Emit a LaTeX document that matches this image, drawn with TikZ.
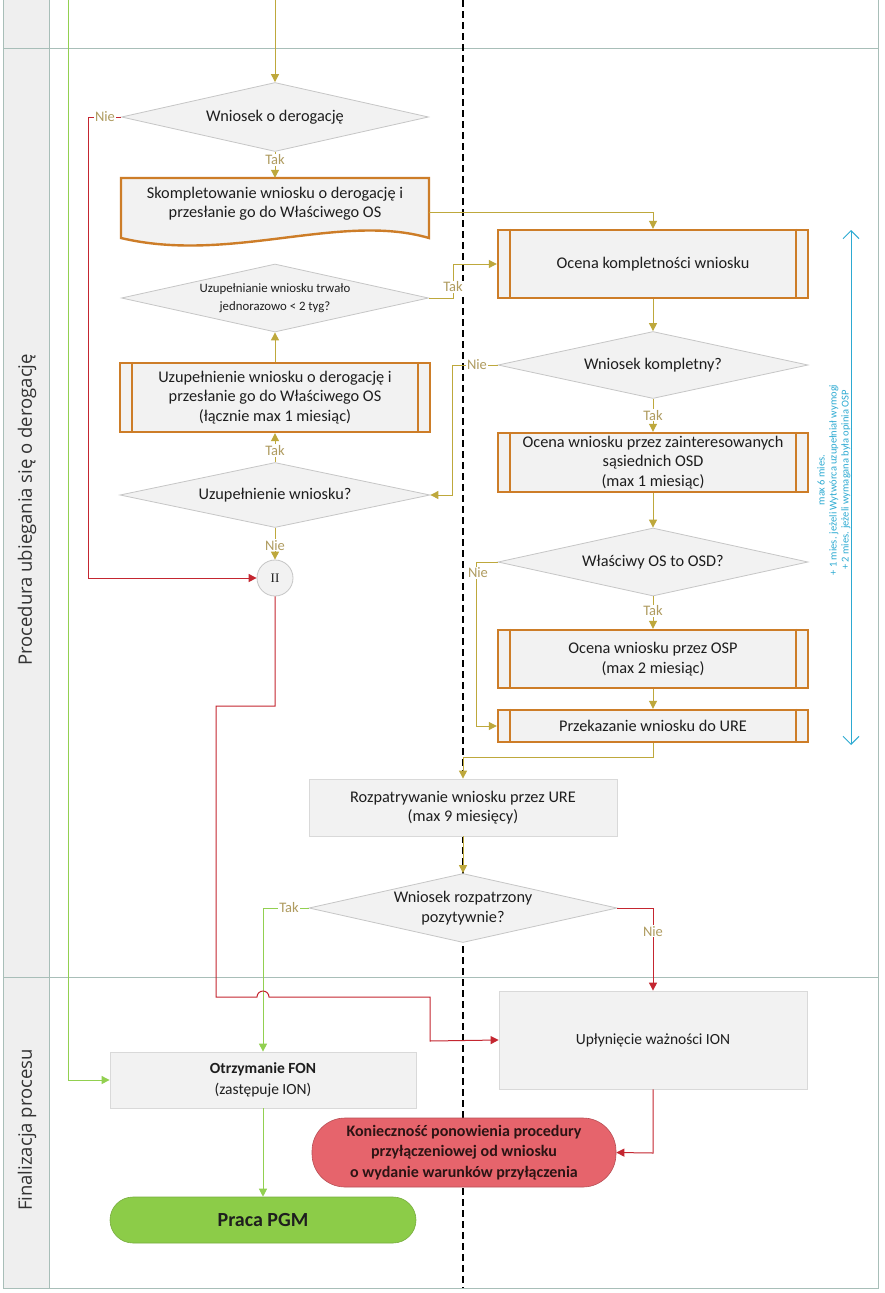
\documentclass[tikz,border=0pt]{standalone}
\usepackage{fontspec}
\setmainfont{Carlito}
\newfontfamily\lanefont{Open Sans}
\newfontfamily\romfont{Liberation Serif}
\usetikzlibrary{arrows.meta,shapes.geometric}
\definecolor{orng}{RGB}{205,125,40}
\definecolor{olv}{RGB}{190,168,60}
\definecolor{lblc}{RGB}{175,155,95}
\definecolor{boxf}{RGB}{242,242,242}
\definecolor{redl}{RGB}{196,38,48}
\definecolor{grnl}{RGB}{146,208,80}
\definecolor{grnf}{RGB}{140,204,72}
\definecolor{redf}{RGB}{230,100,108}
\definecolor{bluel}{RGB}{45,170,210}
\definecolor{lanel}{RGB}{168,190,184}
\definecolor{lanef}{RGB}{239,239,239}
\definecolor{txt}{RGB}{30,30,30}
\newcommand\sublines[1]{\draw[orng, line width=2.4pt] ([xshift=13pt]#1.north west) -- ([xshift=13pt]#1.south west) ([xshift=-13pt]#1.north east) -- ([xshift=-13pt]#1.south east);}
\begin{document}
\begin{tikzpicture}[x=1pt,y=-1pt,
  every node/.style={text=txt},
  mainfont/.style={font=\fontsize{16.3}{19.3}\selectfont},
  proc/.style={rectangle, draw=orng, line width=2.4pt, fill=boxf, inner sep=0pt, align=center, mainfont, minimum width=310pt},
  plainbox/.style={rectangle, draw=gray!30, line width=0.8pt, fill=boxf, inner sep=0pt, align=center, minimum width=308pt},
  dia/.style={diamond, draw=gray!45, line width=0.8pt, fill=boxf, inner sep=0pt},
  dtext/.style={align=center, mainfont},
  oline/.style={draw=olv, line width=1pt},
  rline/.style={draw=redl, line width=1pt},
  gline/.style={draw=grnl, line width=1pt},
  tip/.style={-{Triangle[length=8pt,width=8pt]}},
  lbl/.style={fill=white, inner sep=1pt, text=lblc, font=\fontsize{14.5}{14.5}\selectfont},
  lanetxt/.style={rotate=90, text=black!80, font=\lanefont\fontsize{18.5}{22}\selectfont}
]
% canvas
\fill[white] (0,0) rectangle (884,1293);
\useasboundingbox (0,0) rectangle (884,1293);
% lanes
\fill[lanef] (3,0) rectangle (49,1288);
\draw[lanel, line width=1pt] (3,0) -- (3,1288) -- (878,1288) -- (878,0);
\draw[lanel, line width=1pt] (49,0) -- (49,1288);
\draw[lanel, line width=1pt] (3,48) -- (878,48);
\draw[lanel, line width=1pt] (3,977) -- (878,977);
\node[lanetxt] (lane1) at (27,510) {Procedura ubiegania się o derogację};
\node[lanetxt] (lane2) at (27,1130) {Finalizacja procesu};
% dashed separator
\draw[black, line width=1.1pt, dash pattern=on 7pt off 4pt] (463,0) -- (463,1288);

% left column nodes
\node[dia, minimum width=307pt, minimum height=69pt] (d1) at (275,117) {};
\node[dtext] (d1t) at (d1) {Wniosek o derogację};

\path[draw=orng, line width=2.4pt, fill=boxf] (121,178) -- (429,178) -- (429,238) .. controls (340,212) and (230,264) .. (121,238) -- cycle;
\node[minimum width=308pt, minimum height=68pt, inner sep=0pt] (doc) at (275,212) {};
\node[dtext] (doct) at (275,204) {Skompletowanie wniosku o derogację i\\przesłanie go do Właściwego OS};

\node[dia, minimum width=307pt, minimum height=68pt] (d4) at (275,298) {};
\node[align=center, font=\fontsize{12.8}{17.5}\selectfont] (d4t) at (d4) {Uzupełnianie wniosku trwało\\jednorazowo < 2 tyg?};

\node[proc, minimum height=69pt] (b4) at (275,397.5) {Uzupełnienie wniosku o derogację i\\przesłanie go do Właściwego OS\\(łącznie max 1 miesiąc)};
\sublines{b4}

\node[dia, minimum width=310pt, minimum height=65pt] (d5) at (275,495) {};
\node[dtext] (d5t) at (d5) {Uzupełnienie wniosku?};

\node[circle, minimum size=36pt, inner sep=0pt, draw=gray!45, line width=0.8pt, fill=boxf, font=\romfont\fontsize{13}{13}\selectfont] (c2) at (275,578) {II};

% right column nodes
\node[proc, minimum height=68pt] (b3) at (653,264) {Ocena kompletności wniosku};
\sublines{b3}
\node[dia, minimum width=310pt, minimum height=67pt] (d6) at (653,365) {};
\node[dtext] (d6t) at (d6) {Wniosek kompletny?};
\node[proc, minimum height=59pt] (b7) at (653,462.5) {Ocena wniosku przez zainteresowanych\\sąsiednich OSD\\(max 1 miesiąc)};
\sublines{b7}
\node[dia, minimum width=310pt, minimum height=68pt] (d8) at (653,562) {};
\node[dtext] (d8t) at (d8) {Właściwy OS to OSD?};
\node[proc, minimum height=58pt] (b9) at (653,659) {Ocena wniosku przez OSP\\(max 2 miesiąc)};
\sublines{b9}
\node[proc, minimum height=32pt] (b10) at (653,726) {Przekazanie wniosku do URE};
\sublines{b10}

% centre
\node[plainbox, mainfont, minimum height=57pt] (b11) at (463,807.5) {Rozpatrywanie wniosku przez URE\\(max 9 miesięcy)};
\node[dia, minimum width=308pt, minimum height=69pt] (d12) at (463,908) {};
\node[dtext] (d12t) at (d12) {Wniosek rozpatrzony\\pozytywnie?};

% final lane
\node[plainbox, minimum width=308pt, minimum height=98pt, font=\fontsize{15.5}{19}\selectfont] (upl) at (653,1040) {Upłynięcie ważności ION};
\node[plainbox, minimum width=306pt, minimum height=56pt, font=\fontsize{15.5}{21}\selectfont] (fon) at (263,1080) {\textbf{Otrzymanie FON}\\(zastępuje ION)};
\node[rectangle, rounded corners=23pt, draw=grnf!85!black, line width=0.6pt, fill=grnf, minimum width=306pt, minimum height=46pt, font=\bfseries\fontsize{20}{24}\selectfont] (praca) at (263,1220) {Praca PGM};
\node[rectangle, rounded corners=33pt, draw=redf!80!black, line width=0.6pt, fill=redf, minimum width=304pt, minimum height=69pt, align=center, text={rgb,255:red,45;green,20;blue,20}, font=\bfseries\fontsize{16}{20.5}\selectfont] (kon) at (464,1152.5) {Konieczność ponowienia procedury\\przyłączeniowej od wniosku\\o wydanie warunków przyłączenia};

% connectors
\coordinate (topin) at (275,0);
\draw[oline,tip] (topin) -- (d1.north);
\draw[oline,tip] (d1.south) -- node[lbl,pos=0.3]{Tak} (doc.north);
\draw[rline,tip] (d1.west) -- (88,117) -- (88,578) -- (c2.west);
\node[lbl] (nie1) at (105,117) {Nie};
\draw[oline,tip] (doc.east) -| (b3.north);
\draw[oline,tip] (d4.east) -- (453,298) -- (453,264) -- (b3.west);
\node[lbl] (tak4) at (453,287) {Tak};
\draw[oline,tip] (b4.north) -- (d4.south);
\draw[oline,tip] (d5.north) -- node[lbl,pos=0.4]{Tak} (b4.south);
\draw[oline,tip] (d5.south) -- node[lbl,pos=0.55]{Nie} (c2.north);
\draw[oline,tip] (b3.south) -- (d6.north);
\draw[oline,tip] (d6.west) -- (452,365) -- (452,495) -- (d5.east);
\node[lbl] (nie6) at (477,365) {Nie};
\draw[oline,tip] (d6.south) -- node[lbl,pos=0.5]{Tak} (b7.north);
\draw[oline,tip] (b7.south) -- (d8.north);
\draw[oline,tip] (d8.south) -- node[lbl,pos=0.45]{Tak} (b9.north);
\draw[oline,tip] (d8.west) -- (476,562) -- (476,726) -- (b10.west);
\node[lbl] (nie8) at (478,573) {Nie};
\draw[oline,tip] (b9.south) -- (b10.north);
\draw[oline,tip] (b10.south) -- (653,757) -- (463,757) -- (b11.north);
\draw[oline,tip] (b11.south) -- (d12.north);
\draw[gline,tip] (d12.west) -- (263,908) -- (fon.north);
\node[lbl] (tak12) at (289,908) {Tak};
\draw[rline,tip] (d12.east) -- (653,908) -- node[lbl,pos=0.28]{Nie} (upl.north);
\draw[rline,tip] (c2.south) -- (275,706) -- (216,706) -- (216,997) -- (257,997) arc[start angle=180, end angle=0, radius=6pt] -- (430,997) -- (430,1041) -- (upl.west);
\coordinate (gtop) at (68,0);
\draw[gline,tip] (gtop) -- (68,1080) -- (fon.west);
\draw[rline,tip] (upl.south) -- (653,1153) -- (kon.east);
\draw[gline,tip] (fon.south) -- (praca.north);

% duration annotation
\coordinate (btop) at (851,230);
\coordinate (bbot) at (851,745);
\draw[bluel, line width=1pt, {Straight Barb[length=8pt,width=16pt]}-{Straight Barb[length=8pt,width=16pt]}] (btop) -- (bbot);
\node[rotate=90, align=center, text=bluel, font=\fontsize{10.5}{12}\selectfont] (btxt) at (834,480) {max 6 mies.\\+ 1 mies. jeżeli Wytwórca uzupełniał wymogi\\+ 2 mies. jeżeli wymagana była opinia OSP};
\end{tikzpicture}
\end{document}
